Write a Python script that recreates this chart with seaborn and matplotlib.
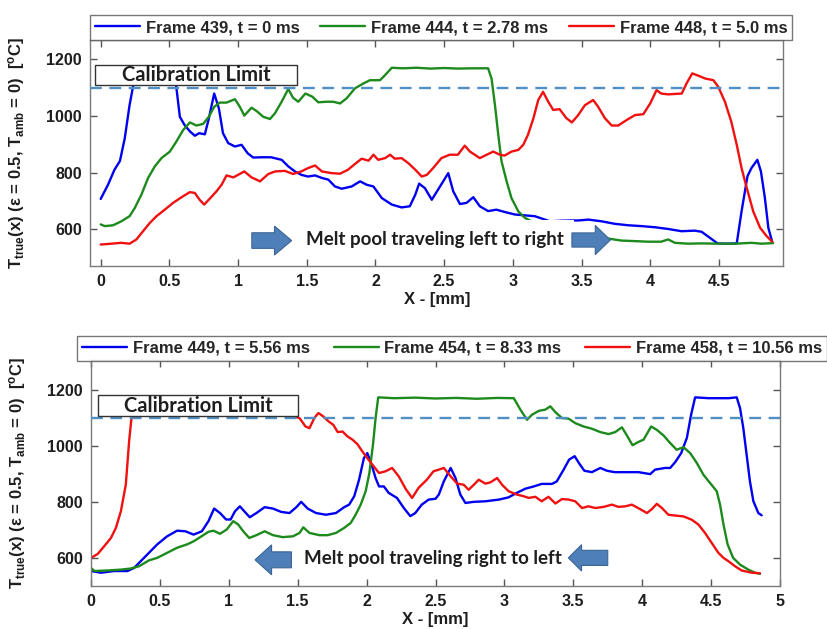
import numpy as np
import pandas as pd
import matplotlib
matplotlib.use("Agg")
import matplotlib.pyplot as plt
from matplotlib.patches import Rectangle, Polygon
import seaborn as sns

# ---------------- data: temperature profiles along the track ----------------
# melt pool moving left to right
x_439 = [0, 0.053, 0.10, 0.14, 0.175, 0.21, 0.235, 0.26, 0.35, 0.45, 0.53, 0.55, 0.576, 0.61, 0.65,
         0.685, 0.717, 0.758, 0.787, 0.826, 0.86, 0.89, 0.928, 0.977, 1.025, 1.07, 1.11, 1.17, 1.24,
         1.317, 1.365, 1.414, 1.46, 1.51, 1.56, 1.61, 1.657, 1.705, 1.754, 1.827, 1.888, 1.936,
         1.985, 2.046, 2.119, 2.19, 2.25, 2.29, 2.318, 2.36, 2.41, 2.47, 2.53, 2.566, 2.615, 2.663,
         2.712, 2.76, 2.82, 2.88, 2.94, 3.015, 3.088, 3.16, 3.234, 3.27, 3.35, 3.42, 3.476, 3.55,
         3.646, 3.743, 3.84, 3.937, 4.034, 4.13, 4.228, 4.325, 4.374, 4.434, 4.49, 4.544, 4.63,
         4.665, 4.708, 4.737, 4.78, 4.806, 4.835, 4.86, 4.888]
t_439 = [707, 757, 810, 841, 921, 1038, 1103, 1168, 1170, 1168, 1170, 1103, 997, 968, 945, 930, 939,
         935, 991, 1079, 1027, 939, 904, 892, 898, 868, 853, 854, 854, 845, 822, 804, 792, 786, 790,
         781, 775, 751, 743, 751, 769, 757, 751, 710, 687, 677, 681, 722, 761, 745, 704, 751, 798,
         734, 689, 693, 713, 681, 664, 669, 661, 652, 649, 646, 634, 628, 630, 631, 631, 634, 628,
         619, 614, 611, 607, 601, 593, 595, 591, 570, 550, 549, 550, 663, 787, 816, 845, 804, 710,
         605, 556]

x_444 = [0, 0.03, 0.09, 0.15, 0.21, 0.248, 0.296, 0.345, 0.394, 0.442, 0.503, 0.55, 0.60, 0.649,
         0.697, 0.746, 0.787, 0.826, 0.867, 0.916, 0.977, 1.013, 1.045, 1.098, 1.135, 1.183, 1.232,
         1.268, 1.317, 1.365, 1.40, 1.438, 1.49, 1.54, 1.584, 1.645, 1.693, 1.742, 1.79, 1.85,
         1.91, 1.96, 2.033, 2.07, 2.119, 2.2, 2.3, 2.4, 2.5, 2.6, 2.7, 2.82, 2.845, 2.87, 2.894,
         2.918, 2.955, 2.99, 3.04, 3.088, 3.124, 3.2, 3.3, 3.4, 3.5, 3.6, 3.695, 3.79, 3.89, 3.986,
         4.08, 4.13, 4.18, 4.277, 4.374, 4.495, 4.616, 4.737, 4.81, 4.895]
t_444 = [617, 611, 614, 628, 646, 675, 722, 781, 822, 851, 874, 909, 950, 977, 966, 972, 997, 1032,
         1047, 1047, 1059, 1032, 1001, 1029, 1017, 997, 989, 1009, 1050, 1095, 1064, 1050, 1079,
         1068, 1048, 1050, 1050, 1044, 1062, 1097, 1114, 1126, 1126, 1144, 1170, 1168, 1170, 1167,
         1169, 1167, 1168, 1168, 1132, 1038, 933, 839, 769, 710, 663, 640, 631, 605, 585, 573, 567,
         566, 567, 560, 558, 556, 556, 564, 552, 549, 550, 549, 549, 552, 549, 551]

x_448 = [0, 0.078, 0.15, 0.21, 0.26, 0.308, 0.357, 0.406, 0.466, 0.527, 0.588, 0.649, 0.685, 0.72,
         0.753, 0.794, 0.843, 0.88, 0.916, 0.965, 1.0, 1.045, 1.098, 1.16, 1.22, 1.27, 1.34, 1.40,
         1.46, 1.51, 1.56, 1.61, 1.68, 1.742, 1.80, 1.85, 1.90, 1.95, 1.985, 2.02, 2.07, 2.107,
         2.14, 2.19, 2.24, 2.29, 2.337, 2.374, 2.42, 2.48, 2.54, 2.60, 2.65, 2.688, 2.76, 2.81,
         2.857, 2.906, 2.94, 2.99, 3.04, 3.076, 3.11, 3.15, 3.185, 3.22, 3.258, 3.294, 3.34, 3.39,
         3.43, 3.476, 3.525, 3.585, 3.62, 3.67, 3.72, 3.767, 3.83, 3.89, 3.95, 4.0, 4.046, 4.08,
         4.13, 4.23, 4.265, 4.306, 4.35, 4.40, 4.46, 4.495, 4.544, 4.59, 4.63, 4.665, 4.70, 4.75,
         4.80, 4.847, 4.888]
t_448 = [546, 549, 552, 549, 564, 593, 622, 646, 669, 693, 713, 731, 728, 704, 687, 708, 734, 757,
         790, 783, 792, 804, 783, 769, 795, 804, 806, 795, 804, 816, 825, 804, 798, 796, 810, 830,
         849, 842, 863, 845, 851, 863, 849, 851, 833, 810, 786, 792, 816, 851, 863, 863, 895, 874,
         851, 863, 874, 863, 860, 874, 880, 898, 933, 992, 1056, 1085, 1050, 1021, 1024, 992, 977,
         1003, 1038, 1056, 1033, 992, 966, 966, 986, 1003, 1006, 1044, 1091, 1079, 1076, 1079,
         1115, 1150, 1142, 1132, 1126, 1103, 1050, 980, 898, 816, 751, 663, 605, 576, 556]

# melt pool moving right to left
x_449 = [0, 0.072, 0.168, 0.264, 0.312, 0.36, 0.42, 0.48, 0.552, 0.624, 0.684, 0.744, 0.804, 0.852,
         0.893, 0.936, 0.98, 1.013, 1.044, 1.08, 1.116, 1.152, 1.20, 1.26, 1.32, 1.38, 1.44, 1.49,
         1.525, 1.572, 1.633, 1.705, 1.777, 1.837, 1.873, 1.91, 1.945, 1.98, 2.005, 2.036, 2.065,
         2.09, 2.125, 2.16, 2.22, 2.27, 2.317, 2.353, 2.40, 2.45, 2.5, 2.524, 2.56, 2.61, 2.645,
         2.68, 2.717, 2.778, 2.862, 2.96, 3.03, 3.09, 3.152, 3.213, 3.27, 3.345, 3.38, 3.43, 3.47,
         3.51, 3.54, 3.58, 3.635, 3.696, 3.744, 3.80, 3.877, 3.973, 4.058, 4.094, 4.167, 4.203,
         4.24, 4.283, 4.324, 4.355, 4.384, 4.48, 4.55, 4.626, 4.686, 4.71, 4.734, 4.758, 4.782,
         4.807, 4.843, 4.867]
t_449 = [553, 547, 553, 553, 564, 588, 618, 648, 677, 697, 695, 683, 695, 731, 776, 760, 737, 737,
         766, 784, 764, 745, 760, 781, 776, 764, 760, 781, 800, 776, 760, 754, 760, 781, 790, 820,
         879, 956, 974, 933, 885, 855, 855, 832, 814, 778, 749, 760, 790, 808, 811, 826, 873, 921,
         885, 826, 796, 800, 802, 808, 816, 832, 847, 855, 864, 864, 873, 915, 951, 963, 939, 911,
         906, 921, 911, 906, 906, 906, 899, 915, 921, 921, 942, 974, 1028, 1111, 1173, 1170, 1170,
         1170, 1173, 1135, 1063, 968, 873, 802, 760, 752]

x_454 = [0, 0.024, 0.12, 0.216, 0.288, 0.348, 0.42, 0.48, 0.552, 0.624, 0.696, 0.744, 0.792, 0.852,
         0.888, 0.936, 0.984, 1.032, 1.068, 1.104, 1.148, 1.20, 1.26, 1.32, 1.39, 1.465, 1.513,
         1.54, 1.585, 1.657, 1.717, 1.777, 1.837, 1.885, 1.92, 1.957, 1.993, 2.02, 2.046, 2.065,
         2.084, 2.2, 2.35, 2.5, 2.65, 2.8, 2.95, 3.068, 3.116, 3.164, 3.20, 3.25, 3.296, 3.333,
         3.37, 3.418, 3.466, 3.514, 3.575, 3.635, 3.696, 3.756, 3.804, 3.853, 3.889, 3.93, 3.973,
         4.01, 4.065, 4.106, 4.155, 4.203, 4.25, 4.30, 4.348, 4.396, 4.444, 4.493, 4.541, 4.565,
         4.59, 4.62, 4.66, 4.71, 4.77, 4.82, 4.855]
t_454 = [564, 553, 555, 558, 562, 570, 591, 600, 618, 636, 648, 659, 674, 693, 697, 686, 701, 731,
         719, 695, 671, 681, 695, 681, 674, 677, 689, 709, 689, 681, 681, 689, 707, 725, 754, 790,
         838, 903, 1004, 1099, 1173, 1170, 1172, 1169, 1171, 1168, 1171, 1170, 1129, 1093, 1111,
         1125, 1129, 1141, 1120, 1099, 1097, 1081, 1069, 1061, 1049, 1042, 1049, 1066, 1037, 1002,
         1014, 1022, 1069, 1057, 1037, 1010, 986, 995, 974, 939, 897, 867, 838, 790, 719, 648, 600,
         576, 558, 547, 543]

x_458 = [0, 0.048, 0.096, 0.144, 0.18, 0.216, 0.252, 0.276, 0.293, 0.32, 0.6, 0.9, 1.2, 1.36, 1.417,
         1.465, 1.513, 1.556, 1.585, 1.62, 1.65, 1.685, 1.724, 1.758, 1.79, 1.825, 1.86, 1.897,
         1.933, 1.969, 2.005, 2.046, 2.09, 2.137, 2.185, 2.233, 2.286, 2.33, 2.377, 2.437, 2.485,
         2.524, 2.56, 2.61, 2.657, 2.705, 2.74, 2.778, 2.814, 2.862, 2.9, 2.947, 2.983, 3.03, 3.09,
         3.14, 3.176, 3.225, 3.27, 3.32, 3.37, 3.418, 3.466, 3.514, 3.563, 3.61, 3.66, 3.72, 3.78,
         3.828, 3.877, 3.925, 3.985, 4.034, 4.07, 4.106, 4.143, 4.19, 4.24, 4.30, 4.36, 4.408,
         4.456, 4.505, 4.553, 4.59, 4.626, 4.674, 4.722, 4.795, 4.855]
t_458 = [600, 614, 642, 671, 707, 766, 861, 1016, 1099, 1168, 1170, 1168, 1170, 1160, 1111, 1105,
         1099, 1069, 1063, 1099, 1117, 1105, 1087, 1075, 1049, 1051, 1034, 1022, 1006, 980, 956, 930,
         903, 909, 921, 891, 844, 814, 850, 879, 909, 915, 921, 891, 865, 861, 843, 861, 879, 865,
         870, 885, 861, 838, 826, 820, 814, 818, 802, 818, 794, 810, 808, 802, 778, 784, 778, 782,
         790, 782, 784, 790, 774, 760, 774, 793, 778, 754, 751, 748, 736, 719, 689, 653, 618, 600,
         588, 570, 555, 547, 545]

labels_top = ["Frame 439, t = 0 ms", "Frame 444, t = 2.78 ms", "Frame 448, t = 5.0 ms"]
labels_bot = ["Frame 449, t = 5.56 ms", "Frame 454, t = 8.33 ms", "Frame 458, t = 10.56 ms"]
calibration_limit = 1100
y_ticks = [600, 800, 1000, 1200]
x_ticks = [0, 0.5, 1, 1.5, 2, 2.5, 3, 3.5, 4, 4.5, 5]

# ---------------- style ----------------
sns.set_style("ticks")
plt.rcParams["font.family"] = ["Liberation Sans", "DejaVu Sans"]
plt.rcParams["font.weight"] = "bold"
plt.rcParams["mathtext.fontset"] = "custom"
plt.rcParams["mathtext.rm"] = "Liberation Sans:bold"
plt.rcParams["mathtext.it"] = "Liberation Sans:bold"
plt.rcParams["mathtext.bf"] = "Liberation Sans:bold"

text_color = "#1e1e1e"
line_colors = ["#0000f0", "#1c8a1c", "#f01010"]
arrow_face, arrow_edge = "#4f7fb8", "#3a6596"
note_font = dict(family=["Lato", "DejaVu Sans"], weight="bold", color=text_color)


def long_frame(xs, ts, labels):
    parts = [pd.DataFrame({"x": x, "T": t, "frame": lab}) for x, t, lab in zip(xs, ts, labels)]
    return pd.concat(parts, ignore_index=True)


def block_arrow(ax, x_tail, x_tip, yc, body_h, head_h, head_len):
    d = np.sign(x_tip - x_tail)
    xb = x_tip - d * head_len
    pts = [(x_tail, yc - body_h / 2), (xb, yc - body_h / 2), (xb, yc - head_h / 2), (x_tip, yc),
           (xb, yc + head_h / 2), (xb, yc + body_h / 2), (x_tail, yc + body_h / 2)]
    ax.add_patch(Polygon(pts, closed=True, facecolor=arrow_face, edgecolor=arrow_edge,
                         lw=0.8, zorder=7))


def style_axes(ax, xlim, ylim, xticks):
    ax.set_xlim(*xlim)
    ax.set_ylim(*ylim)
    ax.set_xticks(xticks)
    ax.set_xticklabels([f"{v:g}" for v in xticks])
    ax.set_yticks(y_ticks)
    ax.tick_params(direction="in", top=True, right=True, length=5, width=1,
                   color="#555555", labelsize=11.5, labelcolor=text_color, pad=6)
    for lab in ax.get_xticklabels() + ax.get_yticklabels():
        lab.set_fontweight("bold")
    for s in ax.spines.values():
        s.set_visible(True)
        s.set_color("#7a7a7a")
        s.set_linewidth(1.0)
    ax.axhline(calibration_limit, color="#4f8fc4", lw=1.7, ls=(0, (5, 3.2)), zorder=3)
    ax.set_xlabel("X - [mm]", fontsize=12, fontweight="bold", color=text_color, labelpad=2)
    ax.set_ylabel(r"T$_{\rm true}$(x) (ε = 0.5, T$_{\rm amb}$ = 0)  [$^{\rm o}$C]",
                  fontsize=12, fontweight="bold", color=text_color)


def calib_box(ax, x0, y0, w, h):
    ax.add_patch(Rectangle((x0, y0), w, h, facecolor="white", edgecolor="#333333",
                           lw=1.0, zorder=6))
    ax.text(x0 + w / 2, y0 + h / 2 - 2, "Calibration Limit", ha="center", va="center",
            zorder=7, size=14.5, **note_font)


fig = plt.figure(figsize=(8.28, 6.29), dpi=100)
ax1 = fig.add_axes([0.1087, 0.577, 0.8375, 0.359])
ax2 = fig.add_axes([0.1100, 0.069, 0.8320, 0.3585])

df_top = long_frame([x_439, x_444, x_448], [t_439, t_444, t_448], labels_top)
df_bot = long_frame([x_449, x_454, x_458], [t_449, t_454, t_458], labels_bot)

for ax, df, labels in [(ax1, df_top, labels_top), (ax2, df_bot, labels_bot)]:
    sns.lineplot(data=df, x="x", y="T", hue="frame", hue_order=labels,
                 palette=dict(zip(labels, line_colors)), estimator=None, sort=False,
                 lw=1.7, ax=ax)

style_axes(ax1, (-0.078, 4.97), (470, 1267), x_ticks[:-1])
style_axes(ax2, (0, 5), (501, 1306), x_ticks)
ax1.yaxis.set_label_coords(-0.091, 0.50)
ax2.yaxis.set_label_coords(-0.092, 0.50)

# annotations, top panel
calib_box(ax1, -0.04, 1108.6, 1.47, 72.4)
ax1.text(2.435, 565, "Melt pool traveling left to right", ha="center", va="center", zorder=6,
         size=13.5, bbox=dict(boxstyle="square,pad=0.55", fc="white", ec="none"), **note_font)
block_arrow(ax1, 1.10, 1.39, 560, 55, 102, 0.125)
block_arrow(ax1, 3.43, 3.71, 562, 50, 103, 0.11)

# annotations, bottom panel
calib_box(ax2, 0.053, 1108, 1.452, 74)
ax2.text(2.48, 596, "Melt pool traveling right to left", ha="center", va="center", zorder=6,
         size=13.5, bbox=dict(boxstyle="square,pad=0.55", fc="white", ec="none"), **note_font)
block_arrow(ax2, 1.454, 1.19, 593, 57, 107, 0.12)
block_arrow(ax2, 3.75, 3.464, 600, 54, 94, 0.096)

# legends laid out across the top of each panel
for ax, anchor in [(ax1, (0.1087, 0.936, 0.848, 0.045)), (ax2, (0.093, 0.4265, 0.906, 0.048))]:
    handles, labs = ax.get_legend_handles_labels()
    ax.get_legend().remove()
    leg = ax.legend(handles, labs, loc="lower left", bbox_to_anchor=anchor,
                    bbox_transform=fig.transFigure, mode="expand", ncol=3, frameon=True,
                    fancybox=False, edgecolor="#555555", borderaxespad=0, handlelength=2.7,
                    handletextpad=0.35, borderpad=0.3, columnspacing=0.6,
                    prop=dict(family=["Liberation Sans", "DejaVu Sans"], weight="bold", size=12))
    leg.get_frame().set_linewidth(1.0)
    for h in leg.get_lines():
        h.set_linewidth(1.7)

fig.savefig("out.png", dpi=100)
